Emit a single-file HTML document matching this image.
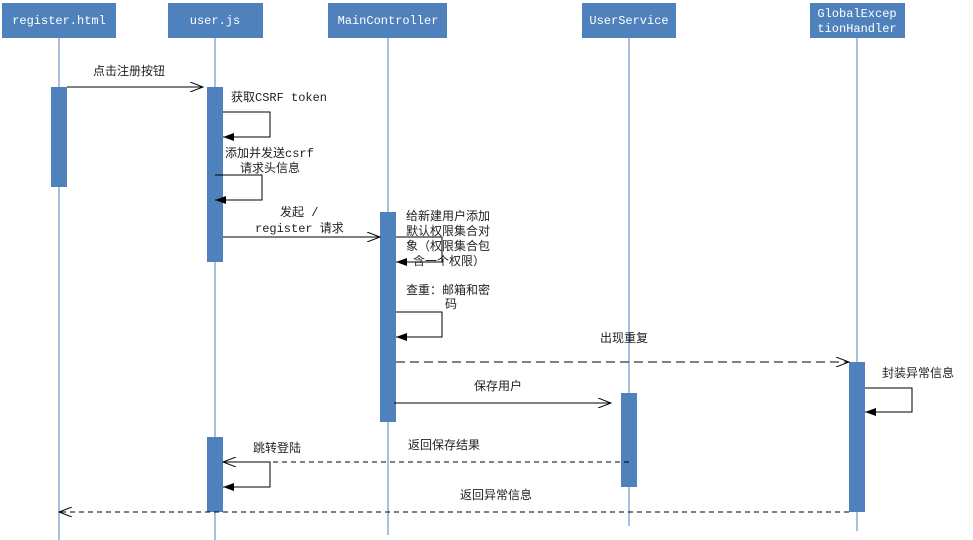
<!DOCTYPE html>
<html><head><meta charset="utf-8"><style>body{margin:0;background:#fff}svg{display:block}
text{font-family:"Liberation Mono","Noto Sans CJK SC",monospace;font-size:12px;fill:#222}
.h{fill:#fff;text-anchor:middle}</style></head><body>
<svg width="973" height="540" xmlns="http://www.w3.org/2000/svg">
<defs>
<marker id="o" markerWidth="14" markerHeight="10" refX="13" refY="5" orient="auto" markerUnits="userSpaceOnUse"><path d="M0,0 L13,5 L0,10" fill="none" stroke="#000" stroke-width="1"/></marker>
<marker id="f" markerWidth="12" markerHeight="8" refX="11" refY="4" orient="auto" markerUnits="userSpaceOnUse"><path d="M0,0 L11,4 L0,8z" fill="#000"/></marker>
</defs>
<g fill="#4f81bd">
<rect x="2" y="3" width="114" height="35"/><rect x="168" y="3" width="95" height="35"/><rect x="328" y="3" width="119" height="35"/><rect x="582" y="3" width="94" height="35"/><rect x="810" y="3" width="95" height="35"/>
</g>
<text class="h" x="59" y="24">register.html</text>
<text class="h" x="215" y="24">user.js</text>
<text class="h" x="388" y="24">MainController</text>
<text class="h" x="629" y="24">UserService</text>
<text class="h" x="857" y="17">GlobalExcep</text>
<text class="h" x="857" y="32">tionHandler</text>
<g stroke="#4f81bd" stroke-width="1">
<line x1="59" y1="38" x2="59" y2="540"/><line x1="215" y1="38" x2="215" y2="540"/><line x1="388" y1="38" x2="388" y2="535"/><line x1="629" y1="38" x2="629" y2="526"/><line x1="857" y1="38" x2="857" y2="531"/>
</g>
<g fill="#4f81bd">
<rect x="51" y="87" width="16" height="100"/><rect x="207" y="87" width="16" height="175"/><rect x="207" y="437" width="16" height="75"/><rect x="380" y="212" width="16" height="210"/><rect x="621" y="393" width="16" height="94"/><rect x="849" y="362" width="16" height="150"/>
</g>
<g stroke="#000" fill="none" stroke-width="1">
<line x1="67" y1="87" x2="203" y2="87" marker-end="url(#o)"/>
<polyline points="223,112 270,112 270,137 223,137" marker-end="url(#f)"/>
<polyline points="215,175 262,175 262,200 215,200" marker-end="url(#f)"/>
<line x1="223" y1="237" x2="380" y2="237" marker-end="url(#o)"/>
<polyline points="396,237 442,237 442,262 396,262" marker-end="url(#f)"/>
<polyline points="396,312 442,312 442,337 396,337" marker-end="url(#f)"/>
<line x1="396" y1="362" x2="849" y2="362" stroke-dasharray="9,5" marker-end="url(#o)"/>
<line x1="394" y1="403" x2="611" y2="403" marker-end="url(#o)"/>
<line x1="629" y1="462" x2="223" y2="462" stroke-dasharray="5,4" marker-end="url(#o)"/>
<polyline points="223,462 270,462 270,487 223,487" marker-end="url(#f)"/>
<line x1="849" y1="512" x2="59" y2="512" stroke-dasharray="5,4" marker-end="url(#o)"/>
<polyline points="865,388 912,388 912,412 865,412" marker-end="url(#f)"/>
</g>
<text x="93" y="75">点击注册按钮</text>
<text x="231" y="101">获取CSRF token</text>
<text x="225" y="157">添加并发送csrf</text>
<text x="240" y="172">请求头信息</text>
<text x="280" y="216">发起 /</text>
<text x="255" y="232">register 请求</text>
<text x="406" y="220">给新建用户添加</text>
<text x="406" y="235">默认权限集合对</text>
<text x="406" y="250">象（权限集合包</text>
<text x="413" y="265">含一个权限）</text>
<text x="406" y="294">查重：邮箱和密</text>
<text x="445" y="308">码</text>
<text x="600" y="342">出现重复</text>
<text x="474" y="390">保存用户</text>
<text x="882" y="377">封装异常信息</text>
<text x="408" y="449">返回保存结果</text>
<text x="253" y="452">跳转登陆</text>
<text x="460" y="499">返回异常信息</text>
</svg>
</body></html>
